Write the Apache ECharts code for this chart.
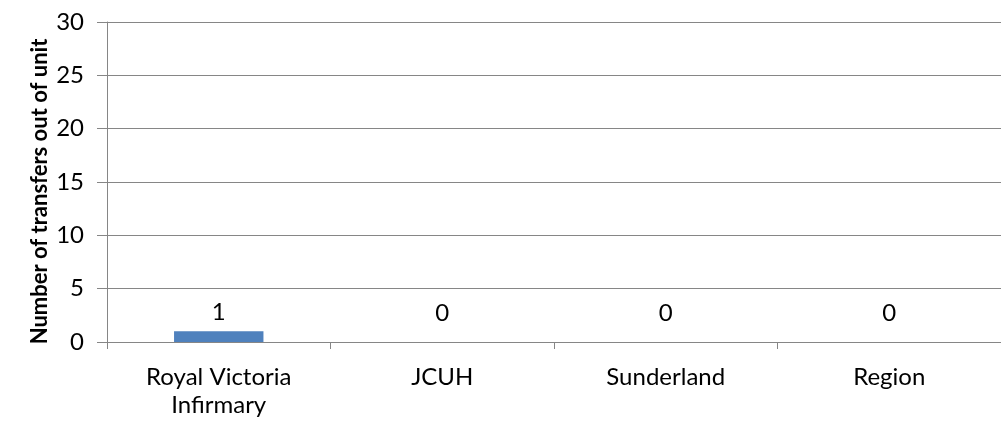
<!DOCTYPE html>
<html><head><meta charset="utf-8">
<script src="https://cdn.jsdelivr.net/npm/echarts@6/dist/echarts.min.js"></script>
<style>html,body{margin:0;padding:0;background:#fff}#c{width:1001px;height:421px}</style>
</head><body><div id="c"></div>
<script>
const categories = ['Royal Victoria\nInfirmary', 'JCUH', 'Sunderland', 'Region'];
const values = [1, 0, 0, 0];
const yTicks = [0, 5, 10, 15, 20, 25, 30];
const yAxisTitle = 'Number of transfers out of unit';

const chart = echarts.init(document.getElementById('c'));
chart.setOption({
  animation: false,
  textStyle: {fontFamily: 'Lato'},
  grid: {left: 107, top: 22, width: 906, bottom: 79},
  xAxis: {
    type: 'category', data: categories,
    axisLine: {lineStyle: {color: '#868686', width: 1}},
    axisTick: {show: true, length: 7, lineStyle: {color: '#868686'}},
    axisLabel: {color: '#000', fontSize: 24, fontFamily: 'Lato', margin: 21, lineHeight: 28}
  },
  yAxis: {
    type: 'value', min: yTicks[0], max: yTicks[yTicks.length - 1], interval: 5,
    name: yAxisTitle, nameLocation: 'middle', nameGap: 56, nameRotate: 90, nameMoveOverlap: false,
    nameTextStyle: {color: '#000', fontSize: 22, fontWeight: 'bold', fontFamily: 'Lato', padding: [0, 19, 0, 0]},
    axisLine: {show: true, lineStyle: {color: '#868686', width: 1}},
    axisTick: {show: true, length: 10, lineStyle: {color: '#868686'}},
    axisLabel: {color: '#000', fontSize: 24, fontFamily: 'Lato', margin: 23},
    splitLine: {lineStyle: {color: '#868686', width: 1}}
  },
  series: [{
    type: 'bar', barWidth: '40%',
    data: values.map(v => ({value: v, label: {distance: v === 0 ? 17 : 7}})),
    itemStyle: {color: '#4F81BD'},
    label: {show: true, position: 'top', color: '#000', fontSize: 24, lineHeight: 24, fontFamily: 'Lato'}
  }]
});
</script></body></html>
